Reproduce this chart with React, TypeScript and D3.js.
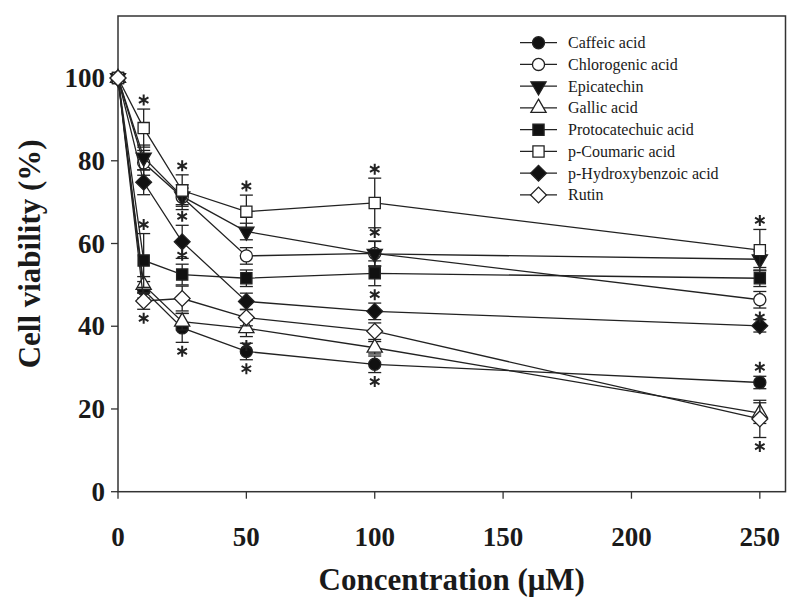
// @ts-nocheck
import React from "react";
import { scaleLinear, line, symbol, symbolCircle, symbolSquare, symbolTriangle } from "d3";

// doses (µM)
const doses = [0, 10, 25, 50, 100, 250];

const names = [
  "Caffeic acid",
  "Chlorogenic acid",
  "Epicatechin",
  "Gallic acid",
  "Protocatechuic acid",
  "p-Coumaric acid",
  "p-Hydroxybenzoic acid",
  "Rutin",
];

// mean cell viability (%)
const caffeic = [100, 48.8, 39.6, 33.9, 30.8, 26.4];
const chlorogenic = [100, 79.5, 71.2, 57.0, 57.6, 46.4];
const epicatechin = [100, 80.8, 71.4, 62.9, 57.5, 56.2];
const gallic = [100, 50.0, 41.1, 39.5, 34.8, 19.0];
const protocatechuic = [100, 55.9, 52.5, 51.6, 52.8, 51.6];
const pCoumaric = [100, 87.9, 72.8, 67.7, 69.8, 58.4];
const pHydroxy = [100, 74.8, 60.4, 46.0, 43.6, 40.1];
const rutin = [100, 46.1, 46.7, 42.1, 38.8, 17.6];

// standard deviations
const caffeicSd = [0, 2, 3.5, 2, 2, 1.5];
const chlorogenicSd = [0, 3, 3, 2, 3, 2];
const epicatechinSd = [0, 3, 2, 2, 3, 2];
const gallicSd = [0, 2, 2, 2, 1.5, 2.5];
const protocatechuicSd = [0, 6.5, 2.5, 2, 3, 2];
const pCoumaricSd = [0, 4.6, 3.8, 4, 6, 5];
const pHydroxySd = [0, 3, 4, 2, 2, 1.5];
const rutinSd = [0, 2, 3, 2, 2, 4.5];

// significance markers: "a" above, "b" below, "" none
const caffeicSig = ["", "", "b", "b", "b", "a"];
const chlorogenicSig = ["", "", "", "", "", "b"];
const epicatechinSig = ["", "", "", "", "a", ""];
const gallicSig = ["", "", "", "b", "", ""];
const protocatechuicSig = ["", "a", "a", "", "b", ""];
const pCoumaricSig = ["", "a", "a", "a", "a", "a"];
const pHydroxySig = ["", "", "a", "", "", ""];
const rutinSig = ["", "b", "", "", "", "b"];

const xTicks = [0, 50, 100, 150, 200, 250];
const yTicks = [0, 20, 40, 60, 80, 100];

const series = [
  { name: names[0], v: caffeic, sd: caffeicSd, sig: caffeicSig, shape: "circle", fill: "#111" },
  { name: names[1], v: chlorogenic, sd: chlorogenicSd, sig: chlorogenicSig, shape: "circle", fill: "#fff" },
  { name: names[2], v: epicatechin, sd: epicatechinSd, sig: epicatechinSig, shape: "tridown", fill: "#111" },
  { name: names[3], v: gallic, sd: gallicSd, sig: gallicSig, shape: "triup", fill: "#fff" },
  { name: names[4], v: protocatechuic, sd: protocatechuicSd, sig: protocatechuicSig, shape: "square", fill: "#111" },
  { name: names[5], v: pCoumaric, sd: pCoumaricSd, sig: pCoumaricSig, shape: "square", fill: "#fff" },
  { name: names[6], v: pHydroxy, sd: pHydroxySd, sig: pHydroxySig, shape: "diamond", fill: "#111" },
  { name: names[7], v: rutin, sd: rutinSd, sig: rutinSig, shape: "diamond", fill: "#fff" },
];

const W = 798;
const H = 610;
const left = 118;
const right = 785.5;
const top = 16;
const bottom = 491.7;
const ink = "#222";
const font = "'Liberation Serif', 'Times New Roman', serif";

const x = scaleLinear().domain([0, 260]).range([left, right]);
const y = scaleLinear().domain([0, 115]).range([bottom, top]);

const Marker = ({ shape, fill, cx, cy }) => {
  let d, rot = 0;
  if (shape === "circle") d = symbol(symbolCircle, 115)();
  else if (shape === "square") d = symbol(symbolSquare, 125)();
  else if (shape === "diamond") { d = symbol(symbolSquare, 125)(); rot = 45; }
  else if (shape === "triup") d = symbol(symbolTriangle, 100)();
  else { d = symbol(symbolTriangle, 100)(); rot = 180; }
  return (
    <path
      d={d}
      transform={`translate(${cx},${cy}) rotate(${rot})`}
      fill={fill}
      stroke={ink}
      strokeWidth={1.3}
    />
  );
};

const Asterisk = ({ cx, cy }) => {
  const r = 5.5;
  const arms = [90, 30, 150].map((a) => {
    const t = (a * Math.PI) / 180;
    return `M${cx - r * Math.cos(t)},${cy - r * Math.sin(t)}L${cx + r * Math.cos(t)},${cy + r * Math.sin(t)}`;
  });
  return <path d={arms.join("")} stroke={ink} strokeWidth={2} fill="none" />;
};

export default function App() {
  const pathGen = line().x((d) => x(d[0])).y((d) => y(d[1]));
  return (
    <svg width={W} height={H} style={{ position: "absolute", left: 0, top: 0, background: "#fff" }}>
      <rect x={0} y={0} width={W} height={H} fill="#fff" />
      {/* frame */}
      <rect x={left} y={top} width={right - left} height={bottom - top} fill="none" stroke="#333" strokeWidth={1.5} />
      {/* y axis ticks */}
      {yTicks.map((t) => (
        <g key={"y" + t}>
          <line x1={left - 7} x2={left} y1={y(t)} y2={y(t)} stroke="#333" strokeWidth={1.3} />
          <text x={left - 13} y={y(t) + 9} textAnchor="end" fontFamily={font} fontWeight="bold" fontSize={27} fill="#1a1a1a">
            {t}
          </text>
        </g>
      ))}
      {/* x axis ticks */}
      {xTicks.map((t) => (
        <g key={"x" + t}>
          <line x1={x(t)} x2={x(t)} y1={bottom} y2={bottom + 7} stroke="#333" strokeWidth={1.3} />
          <text x={x(t)} y={546} textAnchor="middle" fontFamily={font} fontWeight="bold" fontSize={27} fill="#1a1a1a">
            {t}
          </text>
        </g>
      ))}
      <text x={(left + right) / 2} y={590} textAnchor="middle" fontFamily={font} fontWeight="bold" fontSize={31} fill="#1a1a1a">
        Concentration (μM)
      </text>
      <text
        transform={`translate(40,${(top + bottom) / 2}) rotate(-90)`}
        textAnchor="middle"
        fontFamily={font}
        fontWeight="bold"
        fontSize={31}
        fill="#1a1a1a"
      >
        Cell viability (%)
      </text>

      {/* series */}
      {series.map((s) => (
        <g key={s.name}>
          <path d={pathGen(doses.map((d, i) => [d, s.v[i]]))} fill="none" stroke={ink} strokeWidth={1.3} />
          {doses.map((d, i) =>
            s.sd[i] > 0 ? (
              <g key={i}>
                <line x1={x(d)} x2={x(d)} y1={y(s.v[i] + s.sd[i])} y2={y(s.v[i] - s.sd[i])} stroke={ink} strokeWidth={1.3} />
                <line x1={x(d) - 6.5} x2={x(d) + 6.5} y1={y(s.v[i] + s.sd[i])} y2={y(s.v[i] + s.sd[i])} stroke={ink} strokeWidth={1.3} />
                <line x1={x(d) - 6.5} x2={x(d) + 6.5} y1={y(s.v[i] - s.sd[i])} y2={y(s.v[i] - s.sd[i])} stroke={ink} strokeWidth={1.3} />
              </g>
            ) : null
          )}
          {doses.map((d, i) => (
            <Marker key={"m" + i} shape={s.shape} fill={s.fill} cx={x(d)} cy={y(s.v[i])} />
          ))}
        </g>
      ))}
      {/* significance */}
      {series.map((s) =>
        doses.map((d, i) =>
          s.sig[i] ? (
            <Asterisk
              key={s.name + i}
              cx={x(d)}
              cy={s.sig[i] === "a" ? y(s.v[i] + s.sd[i]) - 9 : y(s.v[i] - s.sd[i]) + 9}
            />
          ) : null
        )
      )}

      {/* legend */}
      {series.map((s, i) => {
        const ly = 42.7 + i * 21.75;
        return (
          <g key={"lg" + i}>
            <line x1={520} x2={557} y1={ly} y2={ly} stroke={ink} strokeWidth={1.3} />
            <Marker shape={s.shape} fill={s.fill} cx={538.5} cy={ly} />
            <text x={568} y={ly + 5.5} fontFamily={font} fontSize={16} fill="#1a1a1a">
              {s.name}
            </text>
          </g>
        );
      })}
    </svg>
  );
}
